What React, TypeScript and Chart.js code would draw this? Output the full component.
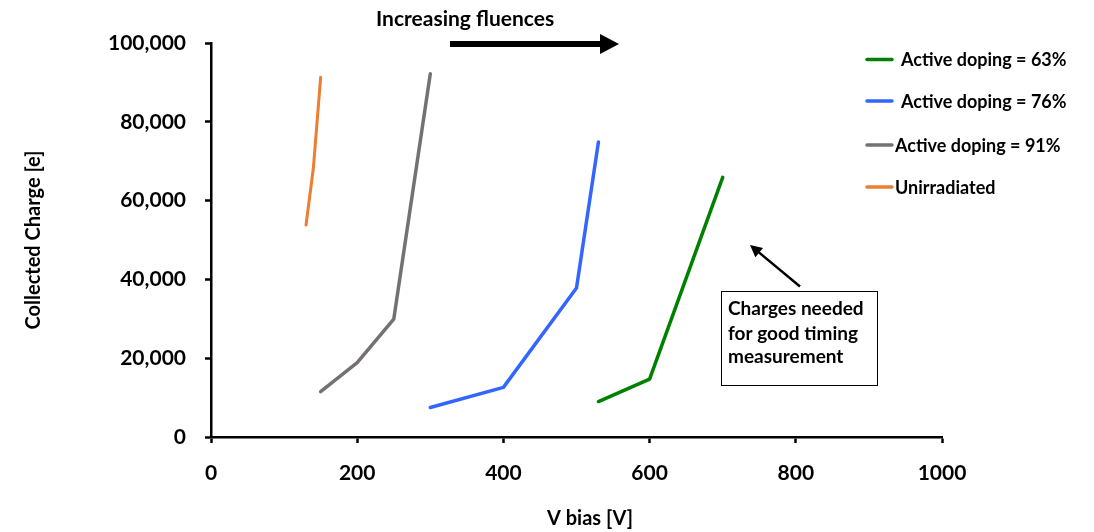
import { useEffect, useRef } from "react";
import { Chart, registerables } from "chart.js";

Chart.register(...registerables);

// ---- data ----
const seriesLabels = ["Active doping = 63%", "Active doping = 76%", "Active doping = 91%", "Unirradiated"];
const seriesColors = ["#008000", "#3366FF", "#767171", "#ED7D31"];

const dop63X = [530, 600, 700];
const dop63Y = [9000, 14700, 65900];

const dop76X = [300, 400, 500, 530];
const dop76Y = [7500, 12600, 37800, 74900];

const dop91X = [150, 200, 250, 300];
const dop91Y = [11500, 18900, 29900, 92200];

const unirrX = [130, 140, 150];
const unirrY = [53800, 68200, 91300];

const xTickValues = [0, 200, 400, 600, 800, 1000];
const xTickLabels = ["0", "200", "400", "600", "800", "1000"];
const yTickValues = [0, 20000, 40000, 60000, 80000, 100000];
const yTickLabels = ["0", "20,000", "40,000", "60,000", "80,000", "100,000"];

const xTitle = "V bias [V]";
const yTitle = "Collected Charge [e]";
const topNote = "Increasing fluences";
const boxNote = ["Charges needed", "for good timing", "measurement"];

const FONT = "Lato, 'Open Sans', sans-serif";

function pts(xs: number[], ys: number[]) {
  return xs.map((x, i) => ({ x, y: ys[i] }));
}

const decorPlugin = {
  id: "decor",
  afterDraw(chart: any) {
    const ctx = chart.ctx as CanvasRenderingContext2D;
    ctx.save();
    ctx.fillStyle = "#000";
    ctx.strokeStyle = "#000";

    // x axis title
    ctx.font = `bold 20px ${FONT}`;
    ctx.textAlign = "left";
    ctx.textBaseline = "middle";
    ctx.fillText(xTitle, 547, 519);

    // top note
    ctx.font = `bold 21px ${FONT}`;
    ctx.textAlign = "left";
    ctx.fillText(topNote, 376, 19);

    // big arrow
    ctx.lineWidth = 6;
    ctx.beginPath();
    ctx.moveTo(450, 44);
    ctx.lineTo(603, 44);
    ctx.stroke();
    ctx.beginPath();
    ctx.moveTo(619, 44);
    ctx.lineTo(600, 34);
    ctx.lineTo(600, 54);
    ctx.closePath();
    ctx.fill();

    // annotation box
    ctx.lineWidth = 1;
    ctx.strokeRect(721.5, 291.5, 156, 94);
    ctx.font = `bold 19px ${FONT}`;
    ctx.textAlign = "left";
    ctx.textBaseline = "middle";
    const lineYs = [309, 334, 357];
    boxNote.forEach((t, i) => ctx.fillText(t, 728, lineYs[i]));

    // small arrow
    const x0 = 800, y0 = 286.5, x1 = 750, y1 = 245;
    const ang = Math.atan2(y1 - y0, x1 - x0);
    ctx.lineWidth = 2.5;
    ctx.beginPath();
    ctx.moveTo(x0, y0);
    ctx.lineTo(x1 - 8 * Math.cos(ang), y1 - 8 * Math.sin(ang));
    ctx.stroke();
    const hl = 12, hw = 6;
    ctx.beginPath();
    ctx.moveTo(x1, y1);
    ctx.lineTo(x1 - hl * Math.cos(ang) + hw * Math.sin(ang), y1 - hl * Math.sin(ang) - hw * Math.cos(ang));
    ctx.lineTo(x1 - hl * Math.cos(ang) - hw * Math.sin(ang), y1 - hl * Math.sin(ang) + hw * Math.cos(ang));
    ctx.closePath();
    ctx.fill();

    // legend
    const legY = [59.5, 101, 145, 187];
    const legTextX = [901, 901, 895, 895];
    ctx.font = `bold 18px ${FONT}`;
    chart.data.datasets.forEach((ds: any, i: number) => {
      ctx.strokeStyle = ds.borderColor;
      ctx.lineWidth = 3.5;
      ctx.lineCap = "round";
      ctx.beginPath();
      ctx.moveTo(867, legY[i]);
      ctx.lineTo(892, legY[i]);
      ctx.stroke();
      ctx.fillStyle = "#000";
      ctx.textAlign = "left";
      ctx.textBaseline = "middle";
      ctx.fillText(ds.label, legTextX[i], legY[i] + 1);
    });
    ctx.restore();
  },
};

export default function App() {
  const ref = useRef<HTMLCanvasElement | null>(null);

  useEffect(() => {
    if (!ref.current) return;
    Chart.defaults.font.family = FONT;
    Chart.defaults.color = "#000";
    const xs = [dop63X, dop76X, dop91X, unirrX];
    const ys = [dop63Y, dop76Y, dop91Y, unirrY];
    const chart = new Chart(ref.current, {
      type: "line",
      data: {
        datasets: seriesLabels.map((label, i) => ({
          label,
          data: pts(xs[i], ys[i]),
          borderColor: seriesColors[i],
          backgroundColor: seriesColors[i],
          borderWidth: i === 3 ? 3 : 3.5,
          pointRadius: 0,
          tension: 0,
          borderCapStyle: "round" as const,
          borderJoinStyle: "round" as const,
          fill: false,
        })),
      },
      options: {
        animation: false,
        responsive: false,
        layout: { padding: { top: 43, right: 152, left: 0, bottom: 0 } },
        plugins: { legend: { display: false }, tooltip: { enabled: false } },
        scales: {
          x: {
            type: "linear",
            min: 0,
            max: 1000,
            afterFit: (s: any) => { s.height = 95; },
            afterBuildTicks: (s: any) => { s.ticks = xTickValues.map((v) => ({ value: v })); },
            ticks: {
              font: { size: 21, weight: "bold" },
              padding: 18,
              maxRotation: 0,
              callback: (v: any) => xTickLabels[xTickValues.indexOf(Number(v))] ?? "",
            },
            grid: { display: true, drawOnChartArea: false, drawTicks: true, tickLength: 6, tickWidth: 2.5, tickColor: "#000" },
            border: { display: true, color: "#000", width: 2.5 },
          },
          y: {
            type: "linear",
            min: 0,
            max: 100000,
            afterFit: (s: any) => { s.width = 211; },
            afterBuildTicks: (s: any) => { s.ticks = yTickValues.map((v) => ({ value: v })); },
            ticks: {
              font: { size: 21, weight: "bold" },
              padding: 19,
              callback: (v: any) => yTickLabels[yTickValues.indexOf(Number(v))] ?? "",
            },
            title: {
              display: true,
              text: yTitle,
              font: { size: 20, weight: "bold" },
              padding: { top: 22, bottom: 0 },
            },
            grid: { display: true, drawOnChartArea: false, drawTicks: true, tickLength: 6, tickWidth: 2.5, tickColor: "#000" },
            border: { display: true, color: "#000", width: 2.5 },
          },
        },
      },
      plugins: [decorPlugin],
    });
    return () => chart.destroy();
  }, []);

  return (
    <div style={{ position: "fixed", left: 0, top: 0, width: 1094, height: 532, background: "#fff" }}>
      <canvas ref={ref} width={1094} height={532} style={{ width: 1094, height: 532 }} />
    </div>
  );
}
